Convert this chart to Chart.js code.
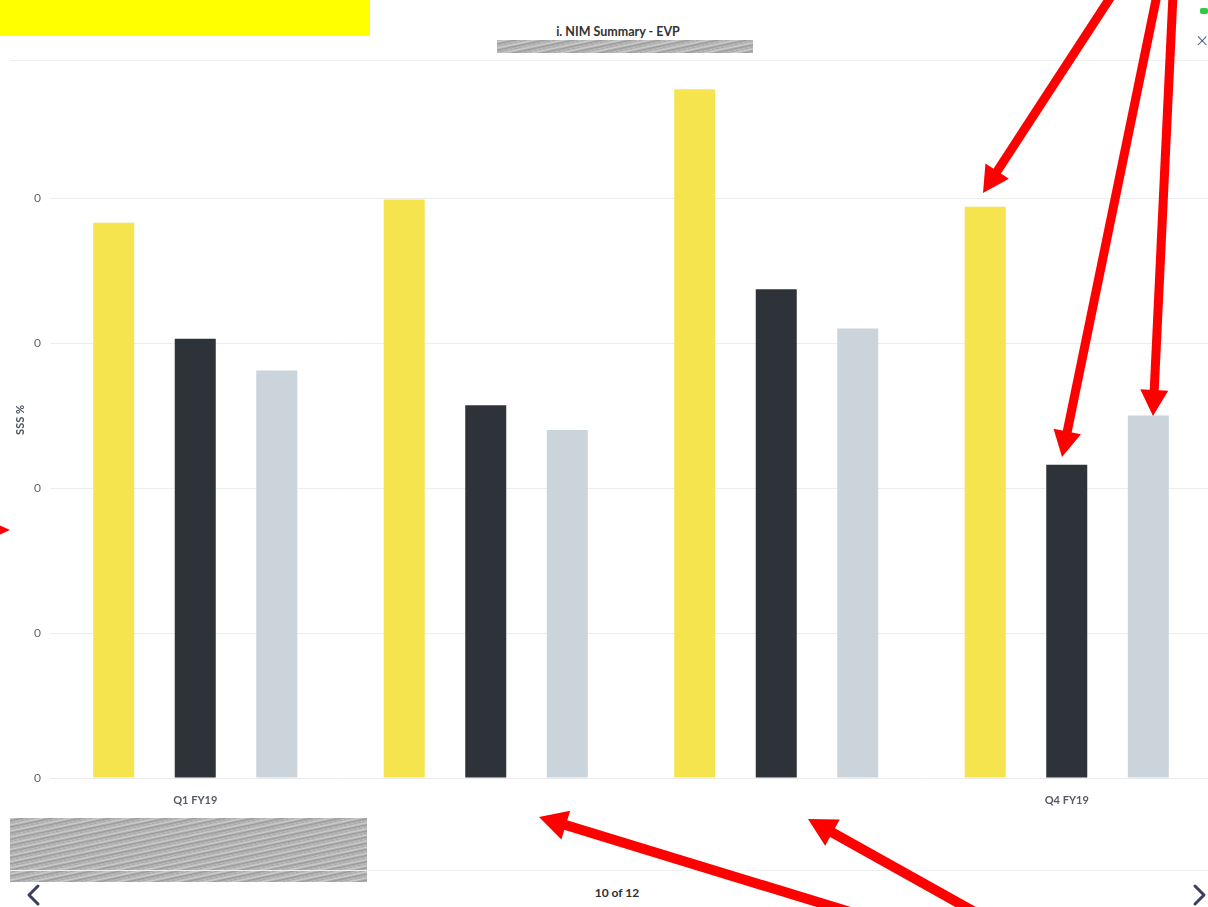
<!DOCTYPE html>
<html>
<head>
<meta charset="utf-8">
<script src="https://cdn.jsdelivr.net/npm/chart.js@4.4.1/dist/chart.umd.min.js"></script>
<style>
  html, body { margin: 0; padding: 0; background: #fff; }
  body { width: 1208px; height: 907px; position: relative; overflow: hidden; font-family: Lato, "Open Sans", sans-serif; }
  #wrap { position: absolute; left: 0; top: 0; width: 1212px; height: 820px; }
  .abs { position: absolute; }
  #hdrline { left: 10px; top: 60px; width: 1198px; height: 1px; background: #efefef; }
  #ftrline { left: 10px; top: 870px; width: 1198px; height: 1px; background: #efefef; }
  #yellow { left: 0; top: 0; width: 370px; height: 36px; background: #ffff00; }
  #title { left: 0; width: 1236px; top: 24px; text-align: center; font-size: 12.5px; font-weight: 700; color: #333; }
  .scribble { background: repeating-linear-gradient(-12deg, #b9b9b9 0px, #8f8f8f 2px, #c8c8c8 4px, #9d9d9d 6px); opacity: 0.9; }
  #scr1 { left: 497px; top: 40px; width: 256px; height: 13px; }
  #scr2 { left: 10px; top: 818px; width: 357px; height: 64px; }
  #pager { left: 0; width: 1234px; top: 885px; text-align: center; font-size: 12px; font-weight: 700; color: #2b2f3a; }
  #close { left: 1196px; top: 27px; font-size: 21px; color: #333; font-weight: 300; }
  #green { left: 1200px; top: 8px; width: 8px; height: 6px; background: #2ecc40; border-radius: 2px; }
  svg { position: absolute; left: 0; top: 0; }
</style>
</head>
<body>
<div class="abs" id="yellow"></div>
<div class="abs" id="title">i. NIM Summary - EVP</div>
<div class="abs scribble" id="scr1"></div>
<div class="abs" id="hdrline"></div>
<div class="abs" id="green"></div>
<div class="abs" id="close">×</div>
<div id="wrap"><canvas id="c"></canvas></div>
<div class="abs scribble" id="scr2"></div>
<div class="abs" id="ftrline"></div>
<div class="abs" id="pager">10 of 12</div>
<svg id="ov" width="1208" height="907"></svg>
<script>
// ---- data ----
const categories = ["Q1 FY19", "Q2 FY19", "Q3 FY19", "Q4 FY19"];
const xTickLabels = ["Q1 FY19", "", "", "Q4 FY19"];
const seriesA = [3.83, 3.99, 4.75, 3.94];
const seriesB = [3.03, 2.57, 3.37, 2.16];
const seriesC = [2.81, 2.40, 3.10, 2.50];
const yTickValues = [0, 1, 2, 3, 4];
const yTickLabels = ["0", "0", "0", "0", "0"];
const yAxisTitle = "SSS %";

Chart.defaults.font.family = "Lato, 'Open Sans', sans-serif";

new Chart(document.getElementById('c'), {
  type: 'bar',
  data: {
    labels: categories,
    datasets: [
      { label: 'A', data: seriesA, backgroundColor: '#f5e44d' },
      { label: 'B', data: seriesB, backgroundColor: '#2e3339' },
      { label: 'C', data: seriesC, backgroundColor: '#cbd4db' }
    ]
  },
  options: {
    responsive: true,
    maintainAspectRatio: false,
    animation: false,
    layout: { padding: { top: 62, right: 0, left: 14, bottom: 0 } },
    plugins: { legend: { display: false }, tooltip: { enabled: false } },
    datasets: { bar: { categoryPercentage: 0.842, barPercentage: 0.503 } },
    scales: {
      x: {
        grid: { display: false },
        border: { display: false },
        ticks: {
          padding: 8,
          color: '#555a66',
          font: { size: 11, weight: 'bold' },
          callback: (v, i) => xTickLabels[i]
        },
        afterFit: s => { s.height = 42; }
      },
      y: {
        min: 0,
        max: 4.938,
        afterBuildTicks: s => { s.ticks = yTickValues.map(v => ({ value: v })); },
        grid: { color: '#ececec', drawTicks: false },
        border: { display: false },
        ticks: {
          padding: 9,
          color: '#666',
          font: { size: 12 },
          callback: (v, i) => yTickLabels[i]
        },
        title: { display: true, text: yAxisTitle, color: '#4a5060', font: { size: 11, weight: 'bold' }, padding: 0 },
        afterFit: s => { s.width = 36; }
      }
    }
  }
});

// ---- annotation overlay (red arrows, chevrons) ----
const ov = document.getElementById('ov');
const NS = 'http://www.w3.org/2000/svg';
function arrow(x1, y1, x2, y2, w, hl, hw) {
  const dx = x2 - x1, dy = y2 - y1, L = Math.hypot(dx, dy);
  const ux = dx / L, uy = dy / L, px = -uy, py = ux;
  const bx = x2 - ux * hl, by = y2 - uy * hl;
  const line = document.createElementNS(NS, 'line');
  line.setAttribute('x1', x1); line.setAttribute('y1', y1);
  line.setAttribute('x2', bx + ux * 2); line.setAttribute('y2', by + uy * 2);
  line.setAttribute('stroke', '#ff0000'); line.setAttribute('stroke-width', w);
  ov.appendChild(line);
  const p = document.createElementNS(NS, 'polygon');
  p.setAttribute('points', `${x2},${y2} ${bx + px * hw},${by + py * hw} ${bx - px * hw},${by - py * hw}`);
  p.setAttribute('fill', '#ff0000');
  ov.appendChild(p);
}
arrow(1112, -5, 983, 193, 9, 26, 14);
arrow(1157, -5, 1062, 457, 9, 26, 14);
arrow(1173, -5, 1153, 416, 9, 26, 14);
arrow(-30, 530, 10, 530, 8, 22, 10);
arrow(860, 915, 539, 817, 10, 28, 15);
arrow(980, 915, 808, 819, 10, 28, 15);

function chev(pts) {
  const pl = document.createElementNS(NS, 'polyline');
  pl.setAttribute('points', pts);
  pl.setAttribute('fill', 'none');
  pl.setAttribute('stroke', '#3a3f5e');
  pl.setAttribute('stroke-width', 3);
  pl.setAttribute('stroke-linecap', 'round');
  pl.setAttribute('stroke-linejoin', 'round');
  ov.appendChild(pl);
}
chev('38,886 29,895 38,904');
chev('1195,886 1204,895 1195,904');
</script>
</body>
</html>
